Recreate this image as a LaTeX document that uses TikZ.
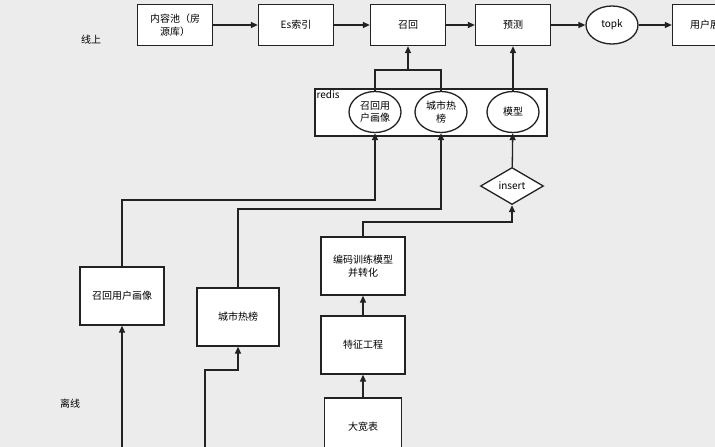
\documentclass[tikz,border=0pt]{standalone}
\usepackage{fontspec}
\setmainfont{Noto Sans CJK SC}
\usetikzlibrary{shapes.geometric,arrows.meta}
\definecolor{bgGray}{HTML}{ECECEC}
\definecolor{inkGray}{HTML}{222222}
\tikzset{
  ink/.style={line width=1.3pt, draw=inkGray},
  box/.style={ink, fill=white, minimum width=75pt, minimum height=41pt, align=center, font=\fontsize{10}{12.5}\selectfont},
  tall/.style={box, minimum width=84pt, minimum height=58pt},
  oval/.style={ink, fill=white, ellipse, minimum width=52pt, minimum height=41pt, inner sep=0pt, align=center, font=\fontsize{10}{12.5}\selectfont},
  link/.style={ink, -{Triangle[length=7pt,width=6pt]}},
}
\begin{document}
\begin{tikzpicture}[x=1pt,y=-1pt]
    \fill[bgGray] (0,0) rectangle (715,447);
    \useasboundingbox (0,0) rectangle (715,447);

    % online row
    \node[box] (pool)  at (175,25) {内容池（房\\源库）};
    \node[box] (es)    at (296,25) {Es索引};
    \node[box] (recall) at (408,25) {召回};
    \node[box] (pred)  at (513,25) {预测};
    \node[oval, minimum height=38pt] (topk) at (612,25) {topk};
    \node[box] (show)  at (710,25) {用户展示};

    \draw[link] (pool) -- (es);
    \draw[link] (es) -- (recall);
    \draw[link] (recall) -- (pred);
    \draw[link] (pred) -- (topk);
    \draw[link] (topk) -- (show);

    % redis
    \node[ink, fill=white, minimum width=232pt, minimum height=47pt] (redis) at (431,112.5) {};
    \node[anchor=north west, inner sep=2pt, font=\fontsize{10}{12.5}\selectfont] at (redis.north west) {redis};
    \node[oval] (rprof) at (375,112) {召回用\\户画像};
    \node[oval] (rhot)  at (441,112) {城市热\\榜};
    \node[oval] (rmod)  at (513,112) {模型};
    \node[ink, fill=white, diamond, aspect=1.7, minimum width=63pt, minimum height=37pt, inner sep=0pt, font=\fontsize{10}{12.5}\selectfont] (ins) at (512,186) {insert};

    \coordinate (join) at (408,70);
    \draw[ink] (rprof.north) |- (join) -| (rhot.north);
    \draw[link] (join) -- (recall.south);
    \draw[link] (rmod) -- (pred);
    \draw[link] (ins) -- (rmod);

    % offline
    \node[tall] (prof) at (122,296) {召回用户画像};
    \node[tall, minimum width=82pt] (hot) at (238,317) {城市热榜};
    \node[tall] (enc) at (363,266) {编码训练模型\\并转化};
    \node[tall] (feat) at (363,345) {特征工程};
    \node[tall, minimum width=77pt] (wide) at (363,427) {大宽表};

    \draw[link] (prof.north) |- (375,200) -- (rprof.south);
    \draw[link] (hot.north) |- (441,209) -- (rhot.south);
    \draw[link] (enc.north) |- (512,222) -- (ins.south);
    \draw[link] (feat) -- (enc);
    \draw[link] (wide) -- (feat);

    \coordinate (srcA) at (122,447);
    \coordinate (srcB) at (205,447);
    \draw[link] (srcA) -- (prof.south);
    \draw[link] (srcB) |- (238,370) -- (hot.south);

    \node[font=\fontsize{10}{12.5}\selectfont] (online) at (91,40) {线上};
    \node[font=\fontsize{10}{12.5}\selectfont] (offline) at (70,404) {离线};
\end{tikzpicture}
\end{document}
